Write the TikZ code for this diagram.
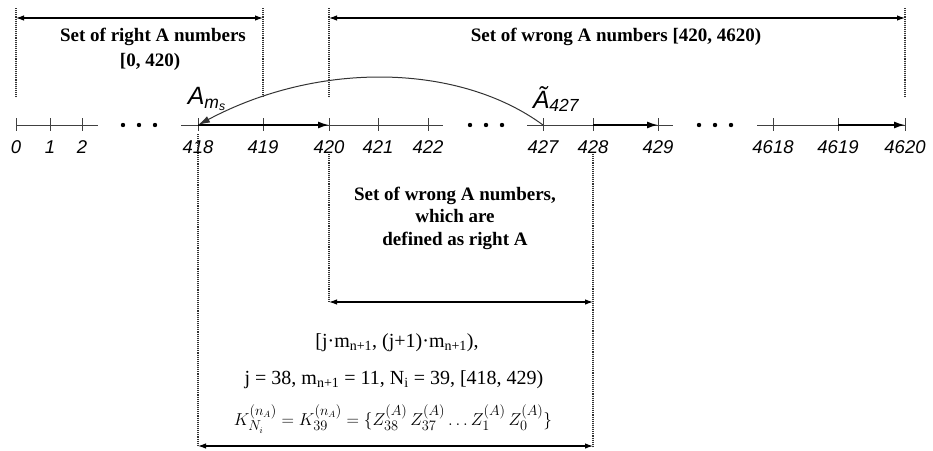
\documentclass[tikz,border=0pt]{standalone}
\usepackage{fontspec}
\setmainfont{Liberation Serif}
\newfontfamily\numfont{Liberation Sans}
\usetikzlibrary{arrows.meta}
\usetikzlibrary{calc}
\tikzset{
  % the number line and its ticks
  axis/.style={draw=black!75, line width=1pt},
  tick/.style={draw=black!75, line width=0.8pt},
  numlbl/.style={font=\numfont\itshape\fontsize{18.5}{18.5}\selectfont, inner sep=1pt},
  % heavy arrows along the number line
  axarrow/.style={-{Latex[length=11pt,width=7pt]}, draw=black, line width=1.5pt},
  % dimension lines and their dotted guides
  dimline/.style={{Latex[length=8pt,width=5.5pt]}-{Latex[length=8pt,width=5.5pt]}, draw=black, line width=1.1pt},
  guide/.style={draw=black!80, densely dotted, line width=1.1pt},
  settxt/.style={font=\bfseries\fontsize{19}{22.5}\selectfont, align=center, inner sep=1pt},
  formula/.style={font=\fontsize{20}{24}\selectfont, inner sep=1pt},
  alabel/.style={font=\numfont\itshape\fontsize{25}{25}\selectfont, inner sep=1pt},
  % the jump from 427 back to 418
  jump/.style={-{Latex[length=12pt,width=7pt]}, draw=black!80, line width=1pt},
}
\newcommand{\threedots}[1]{%
  \foreach \d in {0,16,32} {\fill ($(#1)+(\d,0)$) circle (2.2pt);}}

\begin{document}
\begin{tikzpicture}[x=1pt, y=-1pt]
  \useasboundingbox (0,0) rectangle (933,450);

  % ticks and numbers
  \foreach \n/\x in {0/16,1/50,2/82,418/198,419/263,420/329,421/378,422/428,
                     427/543,428/593,429/658,4618/773,4619/838,4620/905} {
    \coordinate (t\n) at (\x,125);
    \draw[tick] ([yshift=7pt]t\n) -- ([yshift=-6pt]t\n);
    \node[numlbl] (l\n) at (\x,147) {\n};
  }

  % line pieces
  \draw[axis] (t0) -- ($(t2)+(16,0)$);
  \draw[axis] ($(t418)+(-17,0)$) -- ($(t422)+(15,0)$);
  \draw[axis] ($(t427)+(-16,0)$) -- ($(t429)+(15,0)$);
  \draw[axis] ($(t4618)+(-16,0)$) -- (t4620);
  \coordinate (dA) at (123,125);
  \coordinate (dB) at (470,125);
  \coordinate (dC) at (699,125);
  \threedots{dA}
  \threedots{dB}
  \threedots{dC}

  \draw[axarrow] (t418) -- (t420);
  \draw[axarrow] (t428) -- (t429);
  \draw[axarrow] (t4619) -- (t4620);

  % jump
  \draw[jump] (t427) .. controls (460,64) and (320,60) .. (t418);
  \node[alabel] (am) at (207,99) {A\textsubscript{m\textsubscript{s}}};
  \node[alabel] (at) at (556,99) {Ã\textsubscript{427}};

  % upper sets
  \coordinate (gtop) at (0,8);
  \coordinate (gbot) at (0,98);
  \coordinate (dimy) at (0,18);
  \draw[guide] (t0 |- gtop) -- (t0 |- gbot);
  \draw[guide] (t419 |- gtop) -- (t419 |- gbot);
  \draw[guide] (t420 |- gtop) -- (t420 |- gbot);
  \draw[guide] (t4620 |- gtop) -- (t4620 |- gbot);
  \draw[dimline] (t0 |- dimy) -- (t419 |- dimy);
  \draw[dimline] (t420 |- dimy) -- (t4620 |- dimy);
  \node[settxt] (rset) at (153,37) {Set of right A numbers};
  \node[settxt] (rint) at (150,62) {[0, 420)};
  \node[settxt] (wset) at (616,37) {Set of wrong A numbers [420, 4620)};

  % lower sets
  \coordinate (ltop) at (0,134);
  \coordinate (mtop) at (0,154);
  \coordinate (wdy) at (0,302);
  \coordinate (kdy) at (0,446);
  \draw[guide] (t418 |- ltop) -- (t418 |- kdy);
  \draw[guide] (t420 |- mtop) -- (t420 |- wdy);
  \draw[guide] (t428 |- mtop) -- (t428 |- kdy);
  \draw[dimline] (t420 |- wdy) -- (t428 |- wdy);
  \draw[dimline] (t418 |- kdy) -- (t428 |- kdy);
  \node[settxt] (wright) at (455,218)
    {Set of wrong A numbers,\\ which are\\ defined as right A};

  \node[formula] (f1) at (397,343)
    {[j·m\textsubscript{n+1}, (j+1)·m\textsubscript{n+1}),};
  \node[formula] (f2) at (394,380)
    {j = 38, m\textsubscript{n+1} = 11, N\textsubscript{i} = 39, [418, 429)};
  \node[formula, font=\fontsize{19}{23}\selectfont] (f3) at (393,419)
    {$K^{(n_A)}_{N_i} = K^{(n_A)}_{39} = \{Z^{(A)}_{38}\,Z^{(A)}_{37}\ldots Z^{(A)}_{1}\,Z^{(A)}_{0}\}$};

\end{tikzpicture}
\end{document}
